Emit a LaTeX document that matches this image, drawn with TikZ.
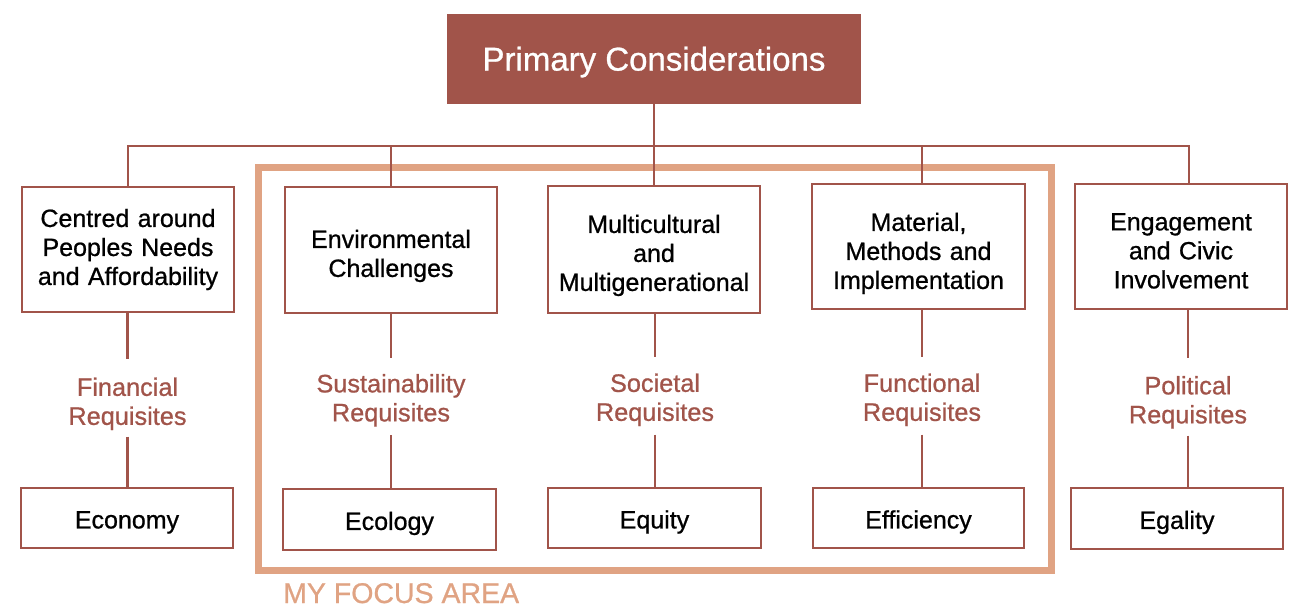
\documentclass[tikz,border=0pt]{standalone}
\usepackage{fontspec}
\setmainfont[FakeBold=0.8]{Liberation Sans}
\definecolor{brick}{RGB}{161,84,74}
\definecolor{focusc}{RGB}{224,163,131}
\newcommand{\downstrut}[1]{\rule{0pt}{#1}}
\newcommand{\bxh}{26pt}
\begin{document}
\begin{tikzpicture}[x=1pt,y=-1pt,
  th/.code={\renewcommand{\bxh}{#1}},
  box/.style={draw=brick, line width=2.5pt, fill=white, align=center, inner sep=0pt,
    text width=206pt, minimum width=212pt, font=\fontsize{25}{29}\selectfont,
    th=26pt, execute at begin node={\downstrut{\bxh}}},
  req/.style={text=brick, align=center, inner sep=0pt, minimum height=77pt, text width=200pt,
    font=\fontsize{25.3}{29}\selectfont, th=26pt, execute at begin node={\downstrut{\bxh}}},
  link/.style={draw=brick, line width=2.5pt}]
\path[use as bounding box] (0,0) rectangle (1313,607);
% focus area frame
\node[draw=focusc, line width=7pt, minimum width=792.5pt, minimum height=403pt, inner sep=0pt] (focus) at (654.75,369) {};
\node[anchor=base west, text=focusc, inner sep=0pt, font=\fontsize{28.5}{30}\selectfont] (focuslabel) at (283,603) {MY FOCUS AREA};
% top
\node[fill=brick, minimum width=414pt, minimum height=90pt, inner sep=0pt, text=white,
  font=\fontsize{33}{38}\selectfont] (top) at (654,59) {\downstrut{30pt}Primary Considerations};
% first row
\node[box, th=0pt, minimum height=125pt] (b1) at (128,249.5) {Centred around\\Peoples Needs\\and Affordability};
\node[box, th=30pt, minimum height=126pt] (b2) at (391,250) {Environmental\\Challenges};
\node[box, th=30pt, minimum height=127pt] (b3) at (654,249.5) {Multicultural\\and\\Multigenerational};
\node[box, th=32pt, minimum height=125pt, minimum width=213pt] (b4) at (918.5,246.5) {Material,\\Methods and\\Implementation};
\node[box, minimum height=125pt] (b5) at (1181,246.5) {Engagement\\and Civic\\Involvement};
% requisites
\node[req, th=30pt] (r1) at (127.5,398) {Financial\\Requisites};
\node[req] (r2) at (391,396.5) {Sustainability\\Requisites};
\node[req] (r3) at (655,396) {Societal\\Requisites};
\node[req] (r4) at (922,396) {Functional\\Requisites};
\node[req, th=29pt] (r5) at (1188,397) {Political\\Requisites};
% bottom row
\node[box, minimum height=60pt] (e1) at (127,518) {Economy};
\node[box, minimum height=61pt, minimum width=213pt] (e2) at (389.5,519.5) {Ecology};
\node[box, minimum height=60pt, minimum width=213pt] (e3) at (654.5,518) {Equity};
\node[box, minimum height=60pt, minimum width=211pt] (e4) at (918.5,518) {Efficiency};
\node[box, minimum height=61pt] (e5) at (1177,518.5) {Egality};
% bus
\coordinate (k1) at (127.5,146);
\coordinate (k5) at (1189,146);
\draw[link] (top.south) -- (b3.north);
\draw[link] (b1.north) -- (b1.north |- k1) -- (k5) -- (k5 |- b5.north);
\draw[link] (b2.north) -- (b2.north |- k1);
\draw[link] (r4.north |- k1) -- (r4.north |- b4.north);
% verticals
\foreach \i in {1,...,5}{
  \draw[link] (b\i.south -| r\i) -- (r\i.north);
  \draw[link] (r\i.south) -- (r\i.south |- e\i.north);
}
\end{tikzpicture}
\end{document}
